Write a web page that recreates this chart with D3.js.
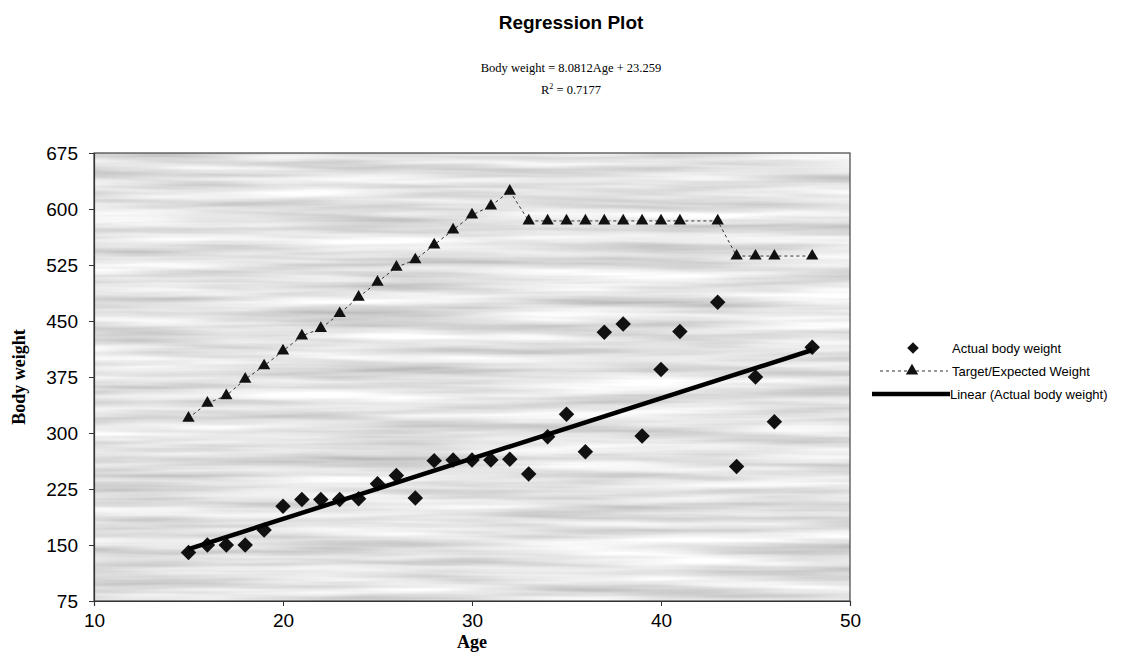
<!DOCTYPE html>
<html>
<head>
<meta charset="utf-8">
<script src="https://cdn.jsdelivr.net/npm/d3@7"></script>
<style>
  html, body { margin: 0; padding: 0; background: #fff; }
  svg { display: block; }
</style>
</head>
<body>
<svg id="chart" width="1147" height="665"></svg>
<script>
// ---- Data ----
const actualAges = [15,16,17,18,19,20,21,22,23,24,25,26,27,28,29,30,31,32,33,34,35,36,37,38,39,40,41,43,44,45,46,48];
const actualWeights = [140,150,150,150,170,202,211,211,211,212,232,243,213,263,264,264,264,265,245,295,325,275,435,446,296,385,436,475,255,375,315,415];

const targetAges = [15,16,17,18,19,20,21,22,23,24,25,26,27,28,29,30,31,32,33,34,35,36,37,38,39,40,41,43,44,45,46,48];
const targetWeights = [320,340,350,372,390,410,430,440,460,482,502,522,532,552,572,592,604,624,584,584,584,584,584,584,584,584,584,584,537,537,537,537];

const slope = 8.0812, intercept = 23.259;
const trendAges = [15, 48];

const xTicks = [10,20,30,40,50];
const yTicks = [75,150,225,300,375,450,525,600,675];

const legendLabels = ["Actual body weight", "Target/Expected Weight", "Linear (Actual body weight)"];

// ---- Layout ----
const svg = d3.select("#chart");
const L = 94, R = 850, T = 153, B = 601;
const x = d3.scaleLinear().domain([10, 50]).range([L, R]);
const y = d3.scaleLinear().domain([75, 675]).range([B, T]);

// background texture filter (horizontal streaks)
const defs = svg.append("defs");
const f = defs.append("filter").attr("id", "streaks")
  .attr("x", 0).attr("y", 0).attr("width", 1).attr("height", 1);
f.append("feTurbulence").attr("type", "fractalNoise")
  .attr("baseFrequency", "0.004 0.09").attr("numOctaves", 3).attr("seed", 7);
f.append("feColorMatrix").attr("type", "matrix")
  .attr("values", "0.75 0 0 0 0.40  0.75 0 0 0 0.40  0.75 0 0 0 0.40  0 0 0 0 1");
f.append("feComposite").attr("in2", "SourceGraphic").attr("operator", "in");

svg.append("rect").attr("x", L).attr("y", T).attr("width", R - L).attr("height", B - T)
  .attr("fill", "#c2c2c2");
svg.append("rect").attr("x", L).attr("y", T).attr("width", R - L).attr("height", B - T)
  .attr("fill", "#c2c2c2").attr("filter", "url(#streaks)");
svg.append("rect").attr("x", L).attr("y", T).attr("width", R - L).attr("height", B - T)
  .attr("fill", "none").attr("stroke", "#444").attr("stroke-width", 1.2);

// ---- Axes ----
const yAxis = svg.append("g").attr("transform", `translate(${L},0)`)
  .call(d3.axisLeft(y).tickValues(yTicks).tickSize(5).tickPadding(11).tickFormat(d3.format("d")));
const xAxis = svg.append("g").attr("transform", `translate(0,${B})`)
  .call(d3.axisBottom(x).tickValues(xTicks).tickSize(5).tickPadding(8).tickFormat(d3.format("d")));
[yAxis, xAxis].forEach(g => {
  g.select(".domain").attr("stroke", "#333").attr("stroke-width", 1.2);
  g.selectAll(".tick line").attr("stroke", "#333");
  g.selectAll(".tick text").attr("fill", "#000")
    .style("font-family", "'Liberation Sans', Arial, sans-serif").style("font-size", "19px");
});

// ---- Target dashed line ----
const target = targetAges.map((a, i) => ({a, w: targetWeights[i]}));
svg.append("path").datum(target)
  .attr("fill", "none").attr("stroke", "#333").attr("stroke-width", 1)
  .attr("stroke-dasharray", "3,3")
  .attr("d", d3.line().x(d => x(d.a)).y(d => y(d.w)));

const tri = d3.symbol().type(d3.symbolTriangle).size(66);
svg.append("g").selectAll("path").data(target).join("path")
  .attr("d", tri).attr("fill", "#111")
  .attr("transform", d => `translate(${x(d.a)},${y(d.w)})`);

// ---- Actual diamonds ----
const actual = actualAges.map((a, i) => ({a, w: actualWeights[i]}));
const dia = d3.symbol().type(d3.symbolSquare).size(120);
svg.append("g").selectAll("path").data(actual).join("path")
  .attr("d", dia).attr("fill", "#111")
  .attr("transform", d => `translate(${x(d.a)},${y(d.w)}) rotate(45)`);

// ---- Trend line ----
svg.append("path").datum(trendAges.map(a => ({a, w: slope * a + intercept})))
  .attr("fill", "none").attr("stroke", "#000").attr("stroke-width", 4.5)
  .attr("d", d3.line().x(d => x(d.a)).y(d => y(d.w)));

// ---- Titles ----
svg.append("text").attr("x", 571).attr("y", 29).attr("text-anchor", "middle")
  .style("font-family", "'Liberation Sans', Arial, sans-serif").style("font-weight", "bold")
  .style("font-size", "19px").text("Regression Plot");
svg.append("text").attr("x", 571).attr("y", 72).attr("text-anchor", "middle")
  .style("font-family", "'Liberation Serif', 'Times New Roman', serif").style("font-size", "12.5px")
  .text(`Body weight = ${slope}Age + ${intercept}`);
const r2 = svg.append("text").attr("x", 571).attr("y", 94).attr("text-anchor", "middle")
  .style("font-family", "'Liberation Serif', 'Times New Roman', serif").style("font-size", "12.5px");
r2.append("tspan").text("R");
r2.append("tspan").attr("dy", -5).style("font-size", "8px").text("2");
r2.append("tspan").attr("dy", 5).text(" = 0.7177");

svg.append("text").attr("transform", `translate(25,${(T + B) / 2}) rotate(-90)`)
  .attr("text-anchor", "middle")
  .style("font-family", "'Liberation Serif', 'Times New Roman', serif").style("font-weight", "bold")
  .style("font-size", "18px").text("Body weight");
svg.append("text").attr("x", (L + R) / 2).attr("y", 648).attr("text-anchor", "middle")
  .style("font-family", "'Liberation Serif', 'Times New Roman', serif").style("font-weight", "bold")
  .style("font-size", "18px").text("Age");

// ---- Legend ----
const lg = svg.append("g").style("font-family", "'Liberation Sans', Arial, sans-serif").style("font-size", "13px");
const rows = [348, 371, 394];
lg.append("path").attr("d", dia).attr("fill", "#111").attr("transform", `translate(913,${rows[0]}) scale(0.75) rotate(45)`);
lg.append("line").attr("x1", 880).attr("x2", 948).attr("y1", rows[1]).attr("y2", rows[1])
  .attr("stroke", "#333").attr("stroke-dasharray", "3,3");
lg.append("path").attr("d", tri).attr("fill", "#111").attr("transform", `translate(912,${rows[1]})`);
lg.append("line").attr("x1", 872).attr("x2", 950).attr("y1", rows[2]).attr("y2", rows[2])
  .attr("stroke", "#000").attr("stroke-width", 4.5);
lg.selectAll("text.lab").data(legendLabels).join("text").attr("class", "lab")
  .attr("x", (d, i) => i === 2 ? 950 : 952).attr("y", (d, i) => rows[i]).attr("dy", "0.35em")
  .text(d => d);
</script>
</body>
</html>
